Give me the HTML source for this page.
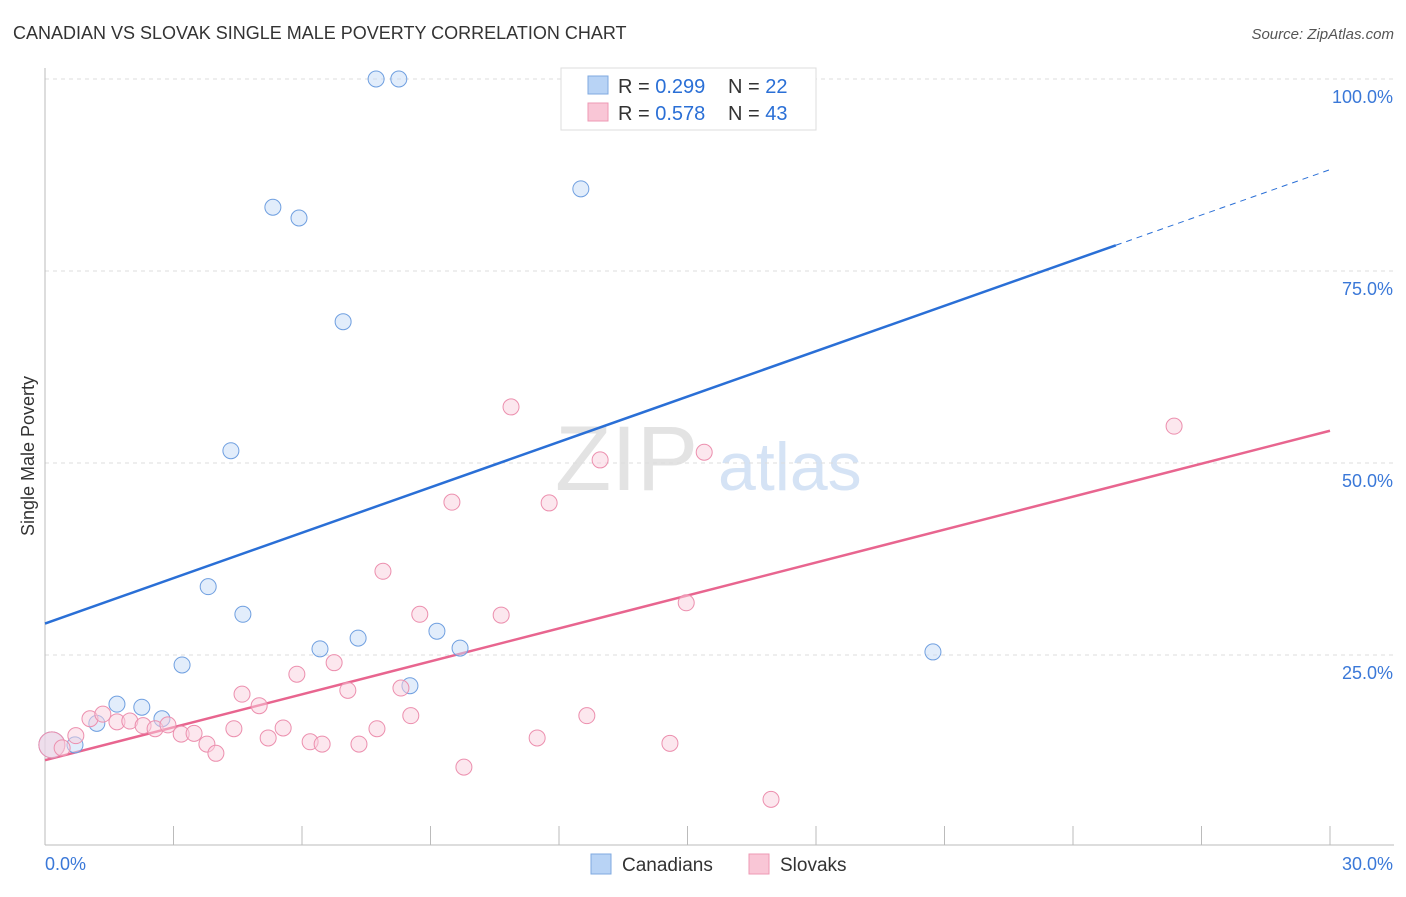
<!DOCTYPE html>
<html><head><meta charset="utf-8">
<style>
body{margin:0;background:#fff;font-family:"Liberation Sans",sans-serif;}
svg text{font-family:"Liberation Sans",sans-serif;}
</style></head>
<body>
<svg id="chart" width="1406" height="892" xmlns="http://www.w3.org/2000/svg">
<text x="13" y="39" font-size="18" fill="#333">CANADIAN VS SLOVAK SINGLE MALE POVERTY CORRELATION CHART</text>
<text x="1394" y="39" font-size="15" fill="#555" text-anchor="end" font-style="italic">Source: ZipAtlas.com</text>
<text transform="translate(34,456) rotate(-90)" font-size="18" fill="#333" text-anchor="middle">Single Male Poverty</text>
<text x="555" y="490" font-size="92" fill="#e3e3e3" font-family="Liberation Serif">ZIP</text>
<text x="718" y="490" font-size="68" fill="#d5e3f5">atlas</text>
<g id="grid"></g><g id="axes"></g><g id="lines"></g><g id="points"></g>
<g>
<rect x="561" y="68" width="255" height="62" fill="#fff" stroke="#ddd"/>
<rect x="588" y="76" width="20" height="18" fill="#b8d3f5" stroke="#7fa9e0"/>
<text x="618" y="93" font-size="20" fill="#333">R = <tspan fill="#2a6fd6">0.299</tspan></text>
<text x="728" y="93" font-size="20" fill="#333">N = <tspan fill="#2a6fd6">22</tspan></text>
<rect x="588" y="103" width="20" height="18" fill="#f9c6d6" stroke="#ee99b4"/>
<text x="618" y="120" font-size="20" fill="#333">R = <tspan fill="#2a6fd6">0.578</tspan></text>
<text x="728" y="120" font-size="20" fill="#333">N = <tspan fill="#2a6fd6">43</tspan></text>
</g>
<g>
<rect x="591" y="854" width="20" height="20" fill="#b8d3f5" stroke="#7fa9e0"/>
<text x="622" y="871" font-size="19" fill="#333">Canadians</text>
<rect x="749" y="854" width="20" height="20" fill="#f9c6d6" stroke="#ee99b4"/>
<text x="780" y="871" font-size="19" fill="#333">Slovaks</text>
</g>
</svg>
<script>
const canX=[0.16,0.70,1.21,1.68,2.26,2.73,3.20,3.81,4.34,4.62,5.32,5.93,6.42,6.96,7.31,7.73,8.26,8.52,9.15,9.69,12.51,20.73];
const canY=[13.3,13.3,16.1,18.6,18.2,16.7,23.7,33.9,51.6,30.3,83.3,81.9,25.8,68.4,27.2,100,100,21.0,28.1,25.9,85.7,25.4];
const slvX=[0.16,0.40,0.72,1.05,1.35,1.68,1.98,2.29,2.57,2.87,3.18,3.48,3.78,3.99,4.41,4.60,5.00,5.21,5.56,5.88,6.19,6.47,6.75,7.07,7.33,7.75,7.89,8.31,8.54,8.75,9.50,9.78,10.65,10.88,11.49,11.77,12.65,12.96,14.59,14.97,15.39,16.95,26.36];
const slvY=[13.3,12.9,14.5,16.7,17.3,16.3,16.4,15.8,15.4,15.9,14.7,14.8,13.4,12.2,15.4,19.9,18.4,14.2,15.5,22.5,13.7,13.4,24.0,20.4,13.4,15.4,35.9,20.7,17.1,30.3,44.9,10.4,30.2,57.3,14.2,44.8,17.1,50.4,13.5,31.8,51.4,6.2,54.8];
const canLine=[29.1,1.97];
const slvLine=[11.3,1.43];
const yTicks=[25,50,75,100];
const yTickLabels=["25.0%","50.0%","75.0%","100.0%"];
const xTicks=[0,3,6,9,12,15,18,21,24,27,30];
const NS="http://www.w3.org/2000/svg";
const sx=v=>45+v/30*1285, sy=v=>847-v*7.68;
function mk(tag,attrs,parent){const e=document.createElementNS(NS,tag);for(const k in attrs)e.setAttribute(k,attrs[k]);document.getElementById(parent).appendChild(e);return e;}
yTicks.forEach((t,i)=>{
 const g=mk('line',{x1:45,x2:1394,y1:sy(t),y2:sy(t),stroke:'#ddd','stroke-dasharray':'4,4'},'grid');
 
 
 const l=mk('text',{x:1393,y:sy(t)+24,'font-size':18,fill:'#3a78d8','text-anchor':'end'},'axes');
 l.textContent=yTickLabels[i];
 
 
});
const xa=mk('line',{x1:45,x2:1394,y1:845,y2:845,stroke:'#bbb'},'axes');


const ya=mk('line',{x1:45,x2:45,y1:68,y2:845,stroke:'#bbb'},'axes');


xTicks.forEach(t=>{const e=mk('line',{x1:sx(t),x2:sx(t),y1:826,y2:845,stroke:'#bbb'},'axes');
 
 });
const x0=mk('text',{x:45,y:870,'font-size':18,fill:'#3a78d8'},'axes');x0.textContent='0.0%';


const x1=mk('text',{x:1393,y:870,'font-size':18,fill:'#3a78d8','text-anchor':'end'},'axes');x1.textContent='30.0%';


function pts(xs,ys,fill,stroke,name){xs.forEach((x,i)=>{
 const c=mk('circle',{cx:sx(x),cy:sy(ys[i]),r:i===0?13:8,fill:fill,'fill-opacity':0.5,stroke:stroke,'stroke-width':1},'points');
 
 });}
const l1=mk('line',{x1:sx(0),y1:sy(canLine[0]),x2:sx(25),y2:sy(canLine[0]+canLine[1]*25),stroke:'#2a6fd6','stroke-width':2.5},'lines');


const l2=mk('line',{x1:sx(25),y1:sy(canLine[0]+canLine[1]*25),x2:sx(30),y2:sy(canLine[0]+canLine[1]*30),stroke:'#2a6fd6','stroke-width':1,'stroke-dasharray':'6,5'},'lines');


const l3=mk('line',{x1:sx(0),y1:sy(slvLine[0]),x2:sx(30),y2:sy(slvLine[0]+slvLine[1]*30),stroke:'#e8658f','stroke-width':2.5},'lines');


pts(canX,canY,'#c6dcf7','#6f9fe0','canadian-point');
pts(slvX,slvY,'#fad0dd','#ec8fae','slovak-point');
</script>
</body></html>
